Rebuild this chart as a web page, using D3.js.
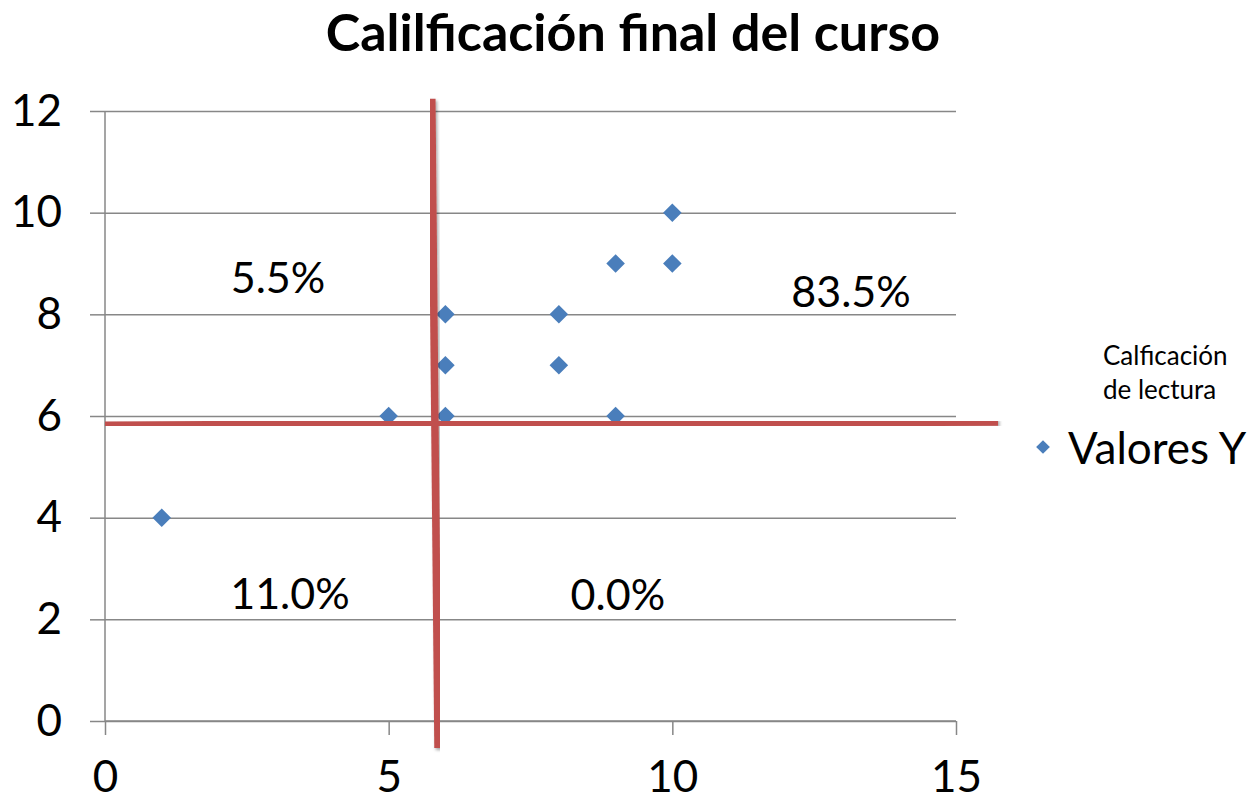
<!DOCTYPE html>
<html lang="es">
<head>
    <meta charset="UTF-8">
    <title>Calilficación final del curso</title>
    <style>
        body { margin: 0; background: #fff; }
        text { font-family: Lato, "Open Sans", sans-serif; fill: #000; }
    </style>
    <script src="https://d3js.org/d3.v7.min.js"></script>
</head>
<body>
    <div id="chart"></div>
    <script>
        // data
        const xValues = [1, 5, 6, 6, 6, 8, 8, 9, 9, 10, 10]
        const yValues = [4, 6, 6, 7, 8, 8, 7, 9, 6, 10, 9]
        const xTicks = [0, 5, 10, 15]
        const yTicks = [0, 2, 4, 6, 8, 10, 12]
        // quadrant labels (hand placed text boxes in the original)
        const quadLabels = ["5.5%", "83.5%", "11.0%", "0.0%"]
        const quadX = [3.05, 13.15, 3.26, 9.04]
        const quadY = [8.75, 8.46, 2.53, 2.51]
        // the two drawn red lines, end points in data units
        const redLines = [
            [[5.76, 12.24], [5.87, -0.53]],
            [[0, 5.82], [15.74, 5.88]]
        ]

        const W = 1252, H = 803
        const margin = {top: 111, left: 105}
        const width = 851, height = 610
        const tickFont = "44px"

        const svg = d3.select("#chart").append("svg")
            .attr("width", W).attr("height", H)

        const defs = svg.append("defs")
        const f = defs.append("filter").attr("id", "shadow")
            .attr("x", "-20%").attr("y", "-20%").attr("width", "140%").attr("height", "140%")
        f.append("feDropShadow").attr("dx", 1.5).attr("dy", 2).attr("stdDeviation", 1.5)
            .attr("flood-color", "#000").attr("flood-opacity", 0.35)

        const g = svg.append("g").attr("transform", `translate(${margin.left},${margin.top})`)

        const x = d3.scaleLinear().domain([0, 15]).range([0, width])
        const y = d3.scaleLinear().domain([0, 12]).range([height, 0])

        // title
        svg.append("text")
            .attr("x", 633).attr("y", 51)
            .attr("text-anchor", "middle")
            .style("font-size", "52px").style("font-weight", "bold")
            .text("Calilficación final del curso")

        // horizontal gridlines
        g.append("g")
            .call(d3.axisLeft(y).tickValues(yTicks).tickSize(-width).tickFormat(""))
            .call(s => s.select(".domain").remove())
            .selectAll("line").attr("stroke", "#878787").attr("stroke-width", 1.5)

        // y axis: ticks to the left + labels
        const yAxis = g.append("g")
            .call(d3.axisLeft(y).tickValues(yTicks).tickSize(15).tickPadding(28))
        yAxis.select(".domain").attr("stroke", "#878787").attr("stroke-width", 1.5)
            .attr("d", `M0,${height}V0`)
        yAxis.selectAll("line").attr("stroke", "#878787").attr("stroke-width", 1.5)
        yAxis.selectAll("text").style("font-size", tickFont)
            .style("font-family", "Lato, 'Open Sans', sans-serif").attr("fill", "#000")

        // x axis
        const xAxis = g.append("g").attr("transform", `translate(0,${height})`)
            .call(d3.axisBottom(x).tickValues(xTicks).tickSize(14).tickPadding(26))
        xAxis.select(".domain").attr("stroke", "#878787").attr("stroke-width", 1.5)
            .attr("d", `M0,0H${width}`)
        xAxis.selectAll("line").attr("stroke", "#878787").attr("stroke-width", 1.5)
        xAxis.selectAll("text").style("font-size", tickFont)
            .style("font-family", "Lato, 'Open Sans', sans-serif").attr("fill", "#000")

        // quadrant labels
        g.selectAll(".quad")
            .data(quadLabels)
            .join("text")
            .attr("class", "quad")
            .attr("x", (d, i) => x(quadX[i]))
            .attr("y", (d, i) => y(quadY[i]))
            .attr("text-anchor", "middle")
            .attr("dominant-baseline", "central")
            .style("font-size", "43px")
            .text(d => d)

        // points
        const diamond = d3.symbol().type(d3.symbolDiamond2).size(220)
        g.selectAll(".pt")
            .data(xValues.map((d, i) => ({x: d, y: yValues[i]})))
            .join("path")
            .attr("class", "pt")
            .attr("d", diamond)
            .attr("transform", d => `translate(${x(d.x)},${y(d.y)})`)
            .attr("fill", "#4A7EBB")

        // red lines drawn over the chart
        const line = d3.line().x(d => x(d[0])).y(d => y(d[1]))
        g.selectAll(".red")
            .data(redLines)
            .join("path")
            .attr("class", "red")
            .attr("d", line)
            .attr("stroke", "#C0504D")
            .attr("stroke-width", 7.5)
            .attr("fill", "none")
            .attr("filter", "url(#shadow)")

        // legend
        const leg = svg.append("g")
        leg.append("text").attr("x", 1103).attr("y", 365).style("font-size", "26px").text("Calficación")
        leg.append("text").attr("x", 1103).attr("y", 399).style("font-size", "26px").text("de lectura")
        leg.append("path").attr("d", d3.symbol().type(d3.symbolDiamond2).size(120))
            .attr("transform", "translate(1043,447)").attr("fill", "#4A7EBB")
        leg.append("text").attr("x", 1068).attr("y", 447)
            .attr("dominant-baseline", "central")
            .style("font-size", "44px").text("Valores Y")
    </script>
</body>
</html>
